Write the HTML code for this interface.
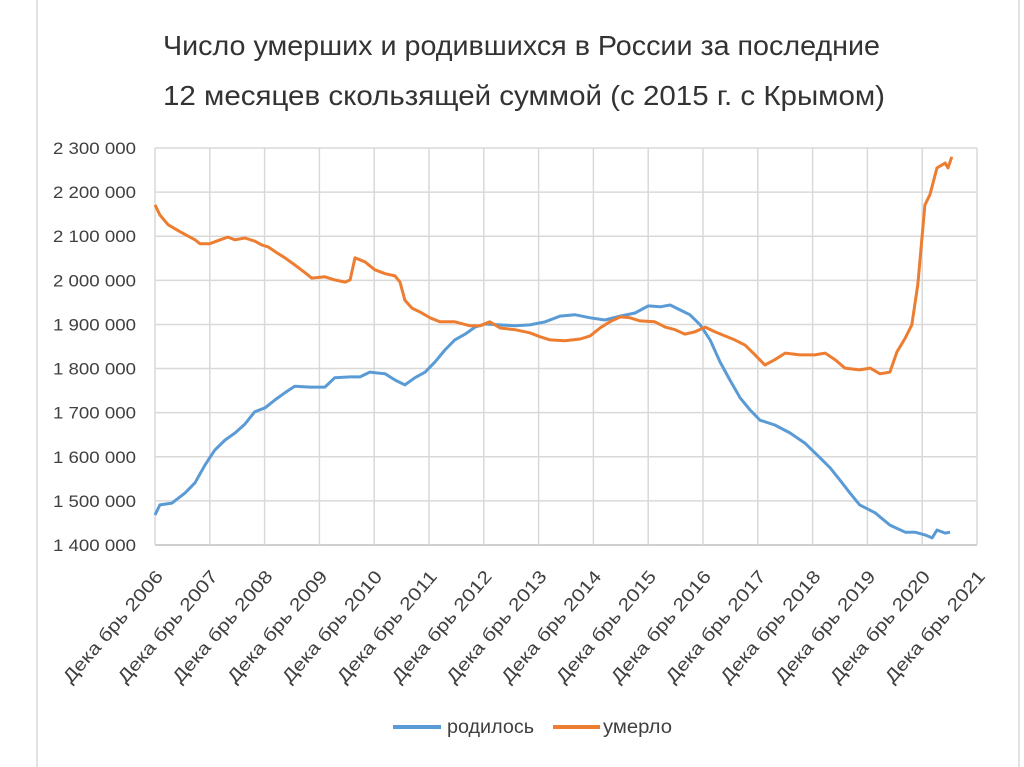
<!DOCTYPE html>
<html><head><meta charset="utf-8">
<style>
html,body{margin:0;padding:0;background:#fff;}
svg{display:block;font-family:"Liberation Sans Narrow","Liberation Sans",sans-serif;}
</style></head>
<body>
<svg id="chart" width="1024" height="767" viewBox="0 0 1024 767">
<line x1="37" y1="0" x2="37" y2="767" stroke="#d9d9d9" stroke-width="1.5"/>
<line x1="1019" y1="0" x2="1019" y2="767" stroke="#d9d9d9" stroke-width="1.5"/>
<text x="163" y="55" textLength="717" lengthAdjust="spacingAndGlyphs" font-size="28" fill="#333">Число умерших и родившихся в России за последние</text>
<text x="163" y="105" textLength="722" lengthAdjust="spacingAndGlyphs" font-size="28" fill="#333">12 месяцев скользящей суммой (с 2015 г. с Крымом)</text>
<g id="grid"></g>
<g id="axes"></g>
<g id="series"></g>
<g>
<line x1="393" y1="727" x2="441" y2="727" stroke="#5b9bd5" stroke-width="4"/>
<text x="447" y="733" textLength="87" lengthAdjust="spacingAndGlyphs" font-size="19" fill="#404040">родилось</text>
<line x1="553" y1="727" x2="600" y2="727" stroke="#ed7d31" stroke-width="4"/>
<text x="603" y="733" textLength="69" lengthAdjust="spacingAndGlyphs" font-size="19" fill="#404040">умерло</text>
</g>
</svg>
<script>
const yTicks=[1400000,1500000,1600000,1700000,1800000,1900000,2000000,2100000,2200000,2300000];
const yTickLabels=["1 400 000","1 500 000","1 600 000","1 700 000","1 800 000","1 900 000","2 000 000","2 100 000","2 200 000","2 300 000"];
const xTickLabels=["Дека брь 2006","Дека брь 2007","Дека брь 2008","Дека брь 2009","Дека брь 2010","Дека брь 2011","Дека брь 2012","Дека брь 2013","Дека брь 2014","Дека брь 2015","Дека брь 2016","Дека брь 2017","Дека брь 2018","Дека брь 2019","Дека брь 2020","Дека брь 2021"];
// time in years since December 2006
const deathsT=[0,.09,.24,.46,.73,.82,1.0,1.19,1.33,1.46,1.64,1.82,1.95,2.06,2.23,2.37,2.55,2.74,2.86,3.1,3.28,3.47,3.56,3.65,3.83,4.01,4.2,4.38,4.47,4.56,4.69,4.84,5.02,5.2,5.47,5.75,5.93,6.11,6.3,6.57,6.84,7.03,7.21,7.48,7.76,7.94,8.12,8.3,8.49,8.67,8.85,9.12,9.31,9.49,9.67,9.85,10.04,10.22,10.4,10.58,10.77,10.95,11.13,11.31,11.5,11.77,12.04,12.23,12.41,12.59,12.86,13.05,13.23,13.41,13.54,13.69,13.81,13.92,14.05,14.14,14.27,14.42,14.47,14.54];
const deathsV=[2171,2148,2126,2110,2092,2083,2083,2092,2098,2092,2096,2089,2080,2076,2062,2051,2035,2017,2005,2008,2001,1996,2001,2051,2042,2024,2015,2010,1996,1955,1937,1928,1915,1906,1906,1897,1897,1906,1892,1888,1881,1872,1865,1863,1867,1874,1892,1906,1917,1915,1908,1906,1894,1888,1878,1883,1894,1883,1874,1865,1853,1831,1808,1820,1835,1831,1831,1835,1820,1801,1797,1801,1788,1792,1838,1869,1899,1990,2171,2194,2255,2266,2255,2280];
const birthsT=[0,.09,.31,.55,.73,.91,1.09,1.28,1.46,1.64,1.82,2.01,2.19,2.37,2.55,2.83,3.1,3.28,3.56,3.74,3.92,4.2,4.38,4.56,4.74,4.93,5.11,5.29,5.47,5.66,5.84,6.02,6.3,6.57,6.84,7.12,7.39,7.66,7.94,8.21,8.49,8.76,9.0,9.22,9.4,9.58,9.76,9.95,10.13,10.31,10.49,10.68,10.86,11.04,11.31,11.59,11.86,12.14,12.32,12.5,12.68,12.86,13.14,13.41,13.69,13.87,14.05,14.18,14.27,14.42,14.51];
const birthsV=[1468,1491,1495,1518,1541,1581,1615,1638,1654,1674,1702,1711,1729,1745,1760,1758,1758,1779,1781,1781,1792,1788,1774,1763,1779,1792,1815,1842,1865,1878,1894,1901,1899,1897,1899,1906,1919,1922,1915,1910,1919,1926,1942,1940,1944,1933,1922,1899,1865,1815,1774,1733,1706,1683,1672,1654,1631,1597,1575,1547,1518,1491,1473,1445,1429,1429,1423,1416,1434,1427,1429];

const L=155,R=977,T=148,B=545,NS="http://www.w3.org/2000/svg";
const xs=t=>L+t*(R-L)/15;
const ys=v=>B-(v-1400000)/900000*(B-T);
function mk(tag,attrs,parent){const e=document.createElementNS(NS,tag);for(const k in attrs)e.setAttribute(k,attrs[k]);parent.appendChild(e);return e;}
const grid=document.getElementById('grid'),axes=document.getElementById('axes'),series=document.getElementById('series');
yTicks.forEach((v,i)=>{
  const l=mk('line',{x1:L,x2:R,y1:ys(v),y2:ys(v),stroke:i===0?'#bfbfbf':'#d9d9d9','stroke-width':1.5},grid);
  
  
  const t=mk('text',{x:53,y:ys(v)+6,textLength:83,lengthAdjust:'spacingAndGlyphs','font-size':17,fill:'#404040'},axes);
  t.textContent=yTickLabels[i];
  
  
});
xTickLabels.forEach((s,i)=>{
  const x=xs(i);
  const l=mk('line',{x1:x,x2:x,y1:T,y2:B,stroke:'#d9d9d9','stroke-width':1.5},grid);
  
  
  const ax=x+9,ay=B+32;
  const t=mk('text',{x:ax-142,y:ay,textLength:142,lengthAdjust:'spacingAndGlyphs','font-size':18,fill:'#404040',transform:`rotate(-49 ${ax} ${ay})`},axes);
  t.textContent=s;
  
  
});
function line(T_,V,color,name){
  const n=Math.min(T_.length,V.length);let d='';
  for(let i=0;i<n;i++)d+=(i?'L':'M')+xs(T_[i]).toFixed(1)+' '+ys(V[i]*1000).toFixed(1);
  const p=mk('path',{d:d,fill:'none',stroke:color,'stroke-width':3,'stroke-linejoin':'round'},series);
  
  
}
line(birthsT,birthsV,'#5b9bd5','births-line');
line(deathsT,deathsV,'#ed7d31','deaths-line');
</script>
</body></html>
